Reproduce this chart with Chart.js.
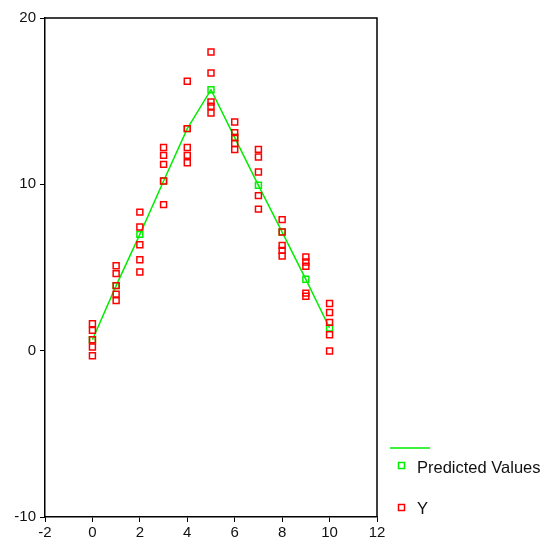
<!DOCTYPE html>
<html>
<head>
<meta charset="utf-8">
<script src="https://cdn.jsdelivr.net/npm/chart.js@4/dist/chart.umd.min.js"></script>
<style>
  html, body { margin: 0; padding: 0; background: #fff; }
  #wrap { width: 542px; height: 546px; }
</style>
</head>
<body>
<div id="wrap"><canvas id="chart" width="542" height="546"></canvas></div>
<script>
// x values (one group of observations each)
const xValues = [0, 1, 2, 3, 4, 5, 6, 7, 8, 9, 10];
// fitted line
const predicted = [0.66, 3.91, 6.99, 10.2, 13.35, 15.69, 12.81, 9.94, 7.13, 4.29, 1.36];
// observed Y, five per x
const observed = [
    [1.62, 1.22, 0.66, 0.22, -0.30],
    [5.11, 4.63, 3.91, 3.40, 3.01],
    [8.33, 7.43, 6.37, 5.47, 4.73],
    [12.21, 11.74, 11.20, 10.20, 8.78],
    [16.2, 13.35, 12.21, 11.74, 11.30],
    [17.96, 16.69, 14.95, 14.70, 14.29],
    [13.75, 13.11, 12.81, 12.45, 12.09],
    [12.10, 11.64, 10.74, 9.32, 8.51],
    [7.88, 7.13, 6.33, 6.03, 5.69],
    [5.63, 5.33, 5.07, 3.46, 3.27],
    [2.83, 2.30, 1.70, 0.96, -0.02]
];
const xTicks = [-2, 0, 2, 4, 6, 8, 10, 12];
const yTicks = [-10, 0, 10, 20];
const legendLabels = ['Predicted Values', 'Y'];

const font = 'Liberation Sans, Arial, sans-serif';

let obsPoints = [];
for (let i = 0; i < xValues.length; i++) {
    observed[i].forEach(v => obsPoints.push({ x: xValues[i], y: v }));
}
let predPoints = xValues.map((x, i) => ({ x: x, y: predicted[i] }));

// box round the plot and the legend at the right
const framePlugin = {
    id: 'frame',
    afterDraw(chart) {
        const ctx = chart.ctx;
        const a = chart.chartArea;
        ctx.save();
        ctx.strokeStyle = '#000';
        ctx.lineWidth = 1.5;
        ctx.beginPath();
        ctx.moveTo(a.left, a.top);
        ctx.lineTo(a.right, a.top);
        ctx.lineTo(a.right, a.bottom);
        ctx.stroke();

        // legend
        ctx.strokeStyle = '#00ee00';
        ctx.lineWidth = 1.5;
        ctx.beginPath();
        ctx.moveTo(390, 448);
        ctx.lineTo(430, 448);
        ctx.stroke();

        ctx.lineWidth = 1.5;
        ctx.strokeStyle = '#00ee00';
        ctx.strokeRect(398.5, 462.5, 6, 6);
        ctx.strokeStyle = '#ff0000';
        ctx.strokeRect(398.5, 504.5, 6, 6);

        ctx.fillStyle = '#111';
        ctx.font = '16.5px ' + font;
        ctx.textBaseline = 'middle';
        ctx.fillText(legendLabels[0], 417, 468);
        ctx.fillText(legendLabels[1], 417, 509);
        ctx.restore();
    }
};

new Chart(document.getElementById('chart').getContext('2d'), {
    type: 'scatter',
    data: {
        datasets: [{
            label: legendLabels[1],
            data: obsPoints,
            pointStyle: 'rect',
            radius: 4.2,
            borderWidth: 1.5,
            borderColor: '#ff0000',
            backgroundColor: 'rgba(255,255,255,0)',
            showLine: false
        }, {
            label: legendLabels[0],
            data: predPoints,
            showLine: true,
            pointStyle: 'rect',
            radius: 4.2,
            borderWidth: 1.5,
            borderColor: '#00ee00',
            backgroundColor: 'rgba(255,255,255,0)',
            tension: 0
        }]
    },
    options: {
        responsive: false,
        animation: false,
        events: [],
        layout: { padding: { left: 0, top: 18, right: 165, bottom: 0 } },
        plugins: { legend: { display: false }, tooltip: { enabled: false } },
        scales: {
            x: {
                type: 'linear',
                min: -2, max: 12,
                afterFit(scale) { scale.height = 29; },
                afterBuildTicks(scale) { scale.ticks = xTicks.map(v => ({ value: v })); },
                border: { color: '#000', width: 1.5 },
                grid: { drawOnChartArea: false, drawTicks: true, tickLength: 5, color: '#000', lineWidth: 1 },
                ticks: { color: '#111', font: { family: font, size: 15 }, padding: 2, autoSkip: false, maxRotation: 0 }
            },
            y: {
                type: 'linear',
                min: -10, max: 20,
                afterFit(scale) { scale.width = 45; },
                afterBuildTicks(scale) { scale.ticks = yTicks.map(v => ({ value: v })); },
                border: { color: '#000', width: 1.5 },
                grid: { drawOnChartArea: false, drawTicks: true, tickLength: 5, color: '#000', lineWidth: 1 },
                ticks: { color: '#111', font: { family: font, size: 15 }, padding: 4, autoSkip: false }
            }
        }
    },
    plugins: [framePlugin]
});
</script>
</body>
</html>
